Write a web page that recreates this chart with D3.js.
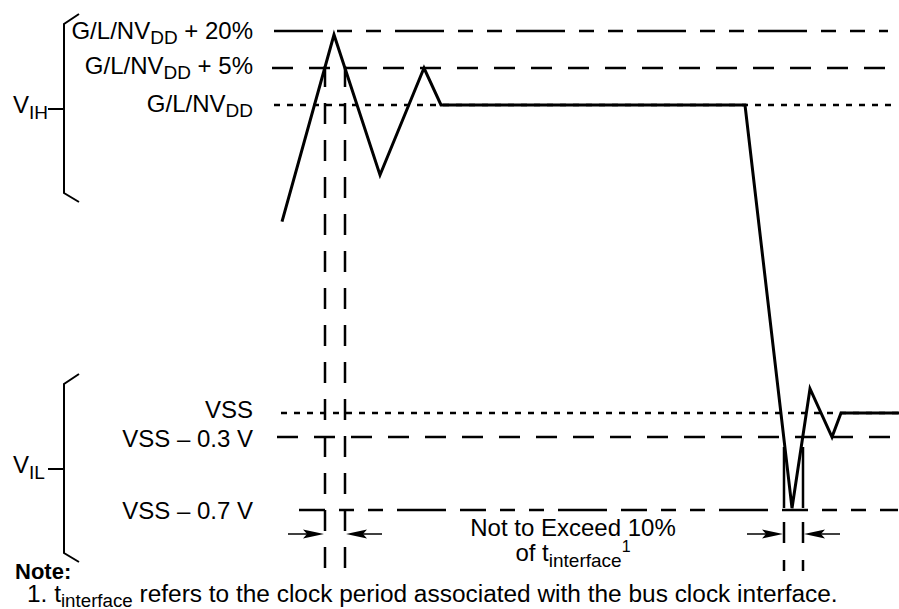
<!DOCTYPE html>
<html>
<head>
<meta charset="utf-8">
<script src="https://cdn.jsdelivr.net/npm/d3@7"></script>
<style>
  body { margin: 0; background: #fff; }
  svg { display: block; }
  text { font-family: "Liberation Sans", Arial, Helvetica, sans-serif; fill: #000; }
</style>
</head>
<body>
<div class="plot1"></div>
<script>
// voltage levels (VDD taken as 3.3 V, the picture is not to scale)
var levelValues = [3.96, 3.465, 3.3, 0, -0.3, -0.7];
var levelMain = ["G/L/NV", "G/L/NV", "G/L/NV", "VSS", "VSS \u2013 0.3 V", "VSS \u2013 0.7 V"];
var levelSub = ["DD", "DD", "DD", "", "", ""];
var levelTail = [" + 20%", " + 5%", "", "", "", ""];

// waveform, time in arbitrary units
var waveT = [12, 64, 110, 154, 171, 475, 522, 540, 562, 571, 630];
var waveV = [2.05, 3.91, 2.55, 3.465, 3.3, 3.3, -0.69, 0.26, -0.3, 0, 0];

// vertical timing markers
var markerT = [55, 75, 514, 533];

var groupNames = ["IH", "IL"];

var bodySelection1 = d3.select(".plot1");
var svg = bodySelection1.append("svg")
  .attr("width", 899)
  .attr("height", 609);

var x = d3.scaleLinear().domain([0, 630]).range([270, 900]);
var y = d3.scaleLinear()
  .domain([-0.7, -0.3, 0, 3.3, 3.465, 3.96])
  .range([510, 437, 413, 105, 68, 31]);

// reference line styles / extents
var lineDash = ["49,14,15,14,15,14", "21,16", "6,7", "6,7", "21,16", "26,14,15,14,15,14,49,14"];
var lineStart = [4, 2, 4, 11, 7, 29];
var lineEnd = [618, 628, 628, 628, 628, 628];
var labelDy = [8, 6, 7, 5, 10, 9];

svg.selectAll("line.level")
  .data(levelValues)
  .enter()
  .append("line")
  .attr("class", "level")
  .attr("x1", function(d, i) { return x(lineStart[i]); })
  .attr("x2", function(d, i) { return x(lineEnd[i]); })
  .attr("y1", function(d) { return y(d); })
  .attr("y2", function(d) { return y(d); })
  .attr("stroke", "#000")
  .attr("stroke-width", 2.5)
  .attr("stroke-dasharray", function(d, i) { return lineDash[i]; });

var labels = svg.selectAll("text.level")
  .data(levelValues)
  .enter()
  .append("text")
  .attr("class", "level")
  .attr("x", 253)
  .attr("y", function(d, i) { return y(d) + labelDy[i]; })
  .attr("text-anchor", "end")
  .style("font-size", "24px");
labels.append("tspan").text(function(d, i) { return levelMain[i]; });
labels.filter(function(d, i) { return levelSub[i]; })
  .append("tspan")
  .attr("dy", 5)
  .style("font-size", "19px")
  .text(function(d) { return levelSub[levelValues.indexOf(d)]; });
labels.filter(function(d, i) { return levelTail[i]; })
  .append("tspan")
  .attr("dy", -5)
  .text(function(d) { return levelTail[levelValues.indexOf(d)]; });

// vertical dashed markers
var markTop = [55, 55, 447, 447];
var markBot = [571, 571, 571, 571];
svg.selectAll("line.marker")
  .data(markerT)
  .enter()
  .append("line")
  .attr("class", "marker")
  .attr("x1", function(d) { return x(d); })
  .attr("x2", function(d) { return x(d); })
  .attr("y1", function(d, i) { return markTop[i]; })
  .attr("y2", function(d, i) { return markBot[i]; })
  .attr("stroke", "#000")
  .attr("stroke-width", 2.5)
  .attr("stroke-dasharray", function(d, i) { return i < 2 ? "21,16" : "61,14,21,17,12"; })
  .attr("stroke-dashoffset", function(d, i) { return i < 2 ? 26 : 0; });

// waveform
var wave = d3.line()
  .x(function(d, i) { return x(waveT[i]); })
  .y(function(d) { return y(d); });
svg.append("path")
  .attr("d", wave(waveV))
  .attr("fill", "none")
  .attr("stroke", "#000")
  .attr("stroke-width", 3)
  .attr("stroke-linejoin", "miter");

// arrows pointing at the markers
var arrowY = y(-0.7) + 24;
function arrow(tipX, dir) {
  var tail = tipX - dir * 36;
  svg.append("line")
    .attr("x1", tail).attr("x2", tipX - dir * 10)
    .attr("y1", arrowY).attr("y2", arrowY)
    .attr("stroke", "#000").attr("stroke-width", 1.5);
  svg.append("path")
    .attr("d", "M" + tipX + "," + arrowY +
      "L" + (tipX - dir * 21) + "," + (arrowY - 4.5) +
      "L" + (tipX - dir * 17) + "," + arrowY +
      "L" + (tipX - dir * 21) + "," + (arrowY + 4.5) + "Z")
    .attr("fill", "#000");
}
arrow(x(markerT[0]) - 1, 1);
arrow(x(markerT[1]) + 1, -1);
arrow(x(markerT[2]) - 1, 1);
arrow(x(markerT[3]) + 1, -1);

// brackets
var bracketTop = [14, 374];
groupNames.forEach(function(name, i) {
  var top = bracketTop[i];
  var bot = top + 188;
  var mid = (top + bot) / 2;
  svg.append("path")
    .attr("d", "M79," + top + "L64," + (top + 10) + "L64," + (bot - 9) + "L79," + bot)
    .attr("fill", "none").attr("stroke", "#000").attr("stroke-width", 2);
  svg.append("line")
    .attr("x1", 48).attr("x2", 64).attr("y1", mid + 1).attr("y2", mid + 1)
    .attr("stroke", "#000").attr("stroke-width", 2);
  var t = svg.append("text")
    .attr("x", 13).attr("y", mid + 5)
    .style("font-size", "24px");
  t.append("tspan").text("V");
  t.append("tspan").attr("dy", 6).style("font-size", "19px").text(name);
});

// annotation
svg.append("text")
  .attr("x", x(303)).attr("y", 536)
  .attr("text-anchor", "middle")
  .style("font-size", "24px")
  .text("Not to Exceed 10%");
var ann2 = svg.append("text")
  .attr("x", x(303)).attr("y", 561)
  .attr("text-anchor", "middle")
  .style("font-size", "24px");
ann2.append("tspan").text("of t");
ann2.append("tspan").attr("dy", 6).style("font-size", "19px").text("interface");
ann2.append("tspan").attr("dy", -15).style("font-size", "16px").text("1");

svg.append("text")
  .attr("x", 15).attr("y", 579)
  .style("font-size", "22px")
  .style("font-weight", "bold")
  .text("Note:");

var note = svg.append("text")
  .attr("transform", "translate(27,602) scale(1.04,1)")
  .style("font-size", "23.5px");
note.append("tspan").text("1. t");
note.append("tspan").attr("dy", 5).style("font-size", "18px").text("interface");
note.append("tspan").attr("dy", -5).text(" refers to the clock period associated with the bus clock interface.");
</script>
</body>
</html>
